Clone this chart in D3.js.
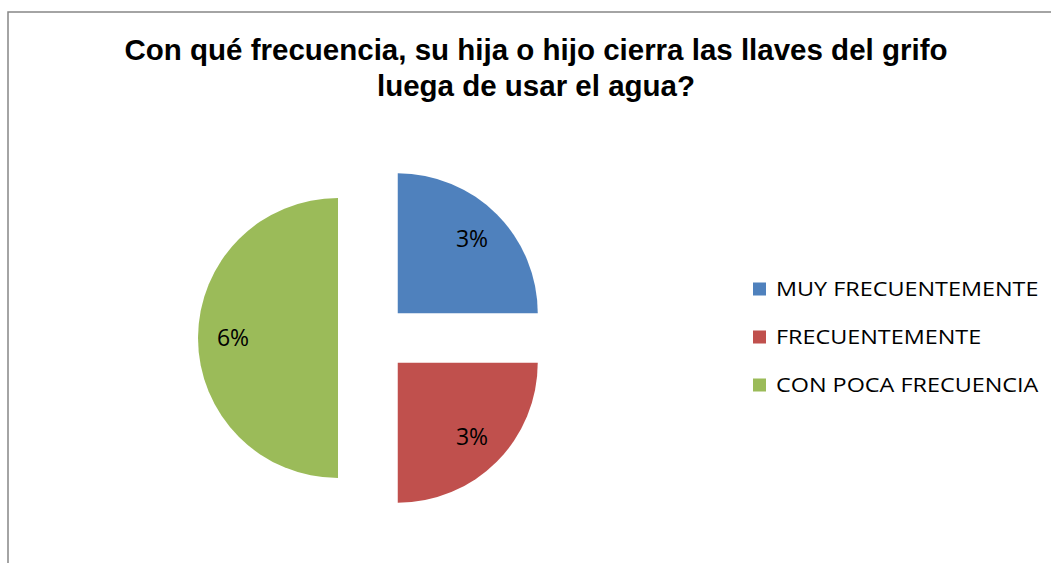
<!DOCTYPE html>
<html>
<head>
<meta charset="utf-8">
<script src="https://cdn.jsdelivr.net/npm/d3@7/dist/d3.min.js"></script>
<style>
  body { margin: 0; background: #fff; }
</style>
</head>
<body>
<div id="chart"></div>
<script>
const width = 1051;
const height = 563;

const categories = ["MUY FRECUENTEMENTE", "FRECUENTEMENTE", "CON POCA FRECUENCIA"];
const values = [3, 3, 6];
const labels = ["3%", "3%", "6%"];
const colors = ["#4F81BD", "#C0504D", "#9BBB59"];
const titleLines = ["Con qué frecuencia, su hija o hijo cierra las llaves del grifo", "luega de usar el agua?"];

const cx = 373, cy = 338;
const radius = 140;
const explode = 35;

const svg = d3.select("#chart")
    .append("svg")
    .attr("width", width)
    .attr("height", height);

// chart border (runs off the right and bottom edge)
svg.append("path")
    .attr("d", "M8," + height + " V12 H" + width)
    .attr("fill", "none")
    .attr("stroke", "#878787")
    .attr("stroke-width", 1.5);

svg.append("text")
    .attr("x", 536)
    .attr("y", 60)
    .attr("text-anchor", "middle")
    .attr("font-family", "Liberation Sans, Arial, sans-serif")
    .attr("font-weight", "bold")
    .attr("font-size", 29.5)
    .selectAll("tspan")
    .data(titleLines)
    .join("tspan")
    .attr("x", 536)
    .attr("dy", (d, i) => i === 0 ? 0 : 36)
    .text(d => d);

const pie = d3.pie().sort(null).value(d => d);
const arcs = pie(values);

const arc = d3.arc().innerRadius(0).outerRadius(radius);
const labelArc = d3.arc().innerRadius(radius * 0.75).outerRadius(radius * 0.75);

const g = svg.append("g")
    .attr("transform", "translate(" + cx + "," + cy + ")");

const slice = g.selectAll("g.slice")
    .data(arcs)
    .join("g")
    .attr("class", "slice")
    .attr("transform", d => {
        const a = (d.startAngle + d.endAngle) / 2;
        return "translate(" + (Math.sin(a) * explode) + "," + (-Math.cos(a) * explode) + ")";
    });

slice.append("path")
    .attr("d", arc)
    .attr("fill", (d, i) => colors[i]);

slice.append("text")
    .attr("transform", d => "translate(" + labelArc.centroid(d) + ")")
    .attr("text-anchor", "middle")
    .attr("dy", "0.36em")
    .attr("font-family", "Open Sans, sans-serif")
    .attr("font-size", 23)
    .attr("fill", "#000")
    .text((d, i) => labels[i]);

const legend = svg.append("g")
    .attr("transform", "translate(753,289)");

const item = legend.selectAll("g")
    .data(categories)
    .join("g")
    .attr("transform", (d, i) => "translate(0," + (i * 48) + ")");

item.append("rect")
    .attr("x", 0)
    .attr("y", -6.5)
    .attr("width", 13)
    .attr("height", 13)
    .attr("fill", (d, i) => colors[i]);

item.append("text")
    .attr("transform", "translate(23,0) scale(1.17,1)")
    .attr("dy", "0.36em")
    .attr("font-family", "Open Sans, sans-serif")
    .attr("font-size", 20)
    .attr("fill", "#000")
    .text(d => d);
</script>
</body>
</html>
